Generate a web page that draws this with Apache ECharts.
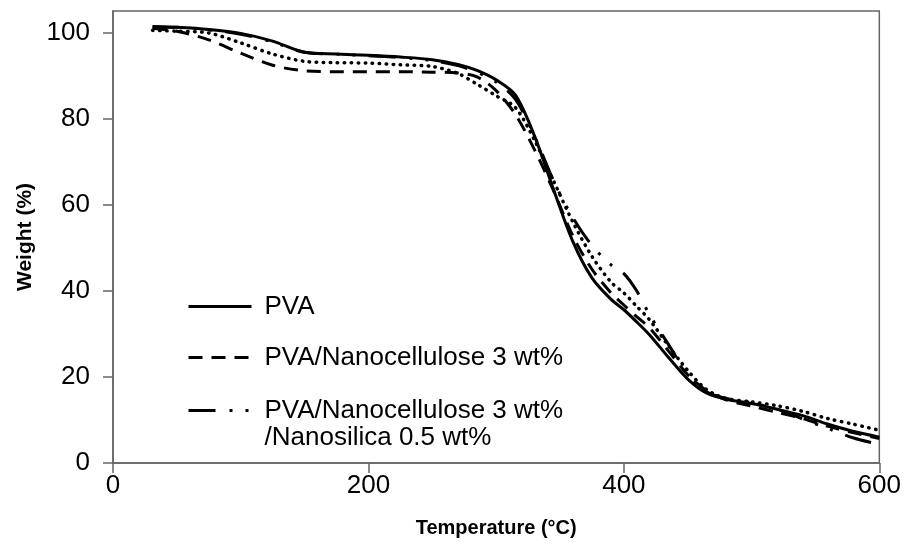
<!DOCTYPE html>
<html>
<head>
<meta charset="utf-8">
<script src="https://cdn.jsdelivr.net/npm/echarts@6/dist/echarts.min.js"></script>
<style>
  html, body { margin: 0; padding: 0; background: #fff; }
  #chart { width: 904px; height: 548px; }
</style>
</head>
<body>
<div id="chart"></div>
<script>
// TGA curves, temperature in degC, weight in %
const temps = [31, 50, 75, 100, 125, 150, 175, 200, 225, 250, 270, 285, 300, 315, 330, 345, 360, 375, 390, 400, 410, 420, 435, 450, 465, 480, 500, 520, 540, 560, 580, 600]
const pva = [101.4, 101.2, 100.7, 99.8, 98, 95.4, 95, 94.7, 94.3, 93.7, 92.6, 91.2, 89, 85.5, 76, 63.5, 51.5, 43, 38, 35.6, 32.8, 29.8, 24.5, 19.5, 16.2, 14.8, 13.8, 12.5, 11, 9, 7.3, 6]
const pvaNc = [101, 100.3, 98.3, 95.2, 92.4, 91.1, 90.9, 90.9, 90.9, 90.8, 90.6, 89.7, 86.5, 81, 72.8, 63.2, 52.8, 45, 39.5, 36.7, 34, 31.4, 26, 20.5, 16.8, 14.7, 13.2, 11.8, 10.3, 8.5, 7, 5.7]
const pvaNcNs = [101.3, 101.2, 100.6, 99.6, 97.8, 95.4, 95, 94.6, 94.2, 93.5, 92.3, 90.8, 88.5, 84.5, 76, 65.5, 57, 50.5, 46, 44, 40, 34.5, 27.5, 20.5, 16.5, 15, 14, 12.5, 10.2, 8, 5.8, 4.3]
// dotted curve, no legend entry in the figure
const dotted = [100.5, 100.3, 99.9, 97.6, 95, 93.3, 93, 92.9, 92.5, 92.1, 90.5, 88, 85.3, 82.6, 75, 65.5, 56, 48, 42, 39.5, 36.4, 33.3, 27.2, 21.5, 17, 15, 14.2, 13.3, 12, 10.3, 9, 7.6]

const xTicks = [0, 200, 400, 600]
const yTicks = [0, 20, 40, 60, 80, 100]

const names = ['PVA', 'PVA/Nanocellulose 3 wt%', 'PVA/Nanocellulose 3 wt%\n/Nanosilica 0.5 wt%', 'dotted']

const font = "'Liberation Sans', Arial, sans-serif"

function pairs(ys) {
  return temps.map((t, i) => [t, ys[i]])
}

const chart = echarts.init(document.getElementById('chart'))

const legendBase = {
  orient: 'vertical',
  left: 187,
  padding: 0,
  itemWidth: 63,
  itemHeight: 14,
  selectedMode: false,
  itemStyle: { opacity: 0 },
  lineStyle: { width: 3 },
  textStyle: {
    color: '#000',
    fontSize: 26,
    fontFamily: font,
    lineHeight: 27,
    padding: [0, 0, 0, 8]
  }
}

chart.setOption({
  animation: false,
  backgroundColor: '#fff',
  grid: {
    left: 113,
    right: 24,
    top: 11,
    bottom: 85,
    show: true,
    borderColor: '#666',
    borderWidth: 1.5
  },
  legend: [
    Object.assign({}, legendBase, { top: 293, data: [names[0]] }),
    Object.assign({}, legendBase, { top: 344, data: [names[1]] }),
    // blank first line so the icon sits beside the first text line
    Object.assign({}, legendBase, { top: 370, data: [names[2]], formatter: name => ' \n' + name })
  ],
  xAxis: {
    type: 'value',
    min: 0,
    max: 600,
    interval: 200,
    name: 'Temperature (°C)',
    nameLocation: 'middle',
    nameGap: 55,
    nameTextStyle: { color: '#000', fontSize: 20, fontWeight: 'bold', fontFamily: font },
    splitLine: { show: false },
    axisLine: { lineStyle: { color: '#666', width: 1.5 } },
    axisTick: { length: 10, lineStyle: { color: '#666', width: 1.5 }, customValues: xTicks },
    axisLabel: { color: '#000', fontSize: 26, fontFamily: font, margin: 10, customValues: xTicks }
  },
  yAxis: {
    type: 'value',
    min: 0,
    max: 105,
    interval: 20,
    name: 'Weight (%)',
    nameLocation: 'middle',
    nameGap: 76,
    nameTextStyle: { color: '#000', fontSize: 21, fontWeight: 'bold', fontFamily: font },
    splitLine: { show: false },
    axisLine: { lineStyle: { color: '#666', width: 1.5 } },
    axisTick: { length: 10, lineStyle: { color: '#666', width: 1.5 }, customValues: yTicks },
    axisLabel: { color: '#000', fontSize: 26, fontFamily: font, margin: 23, customValues: yTicks }
  },
  series: [
    {
      name: names[3],
      type: 'line',
      data: pairs(dotted),
      symbol: 'none',
      smooth: 0.3,
      lineStyle: { color: '#000', width: 3.5, type: [0.5, 6.5], cap: 'round' }
    },
    {
      name: names[1],
      type: 'line',
      data: pairs(pvaNc),
      symbol: 'none',
      smooth: 0.3,
      lineStyle: { color: '#000', width: 3, type: [14, 9] }
    },
    {
      name: names[2],
      type: 'line',
      data: pairs(pvaNcNs),
      symbol: 'none',
      smooth: 0.3,
      lineStyle: { color: '#000', width: 3, type: [27, 14, 3, 13, 3, 13] }
    },
    {
      name: names[0],
      type: 'line',
      data: pairs(pva),
      symbol: 'none',
      smooth: 0.3,
      lineStyle: { color: '#000', width: 3 }
    }
  ]
})
</script>
</body>
</html>
